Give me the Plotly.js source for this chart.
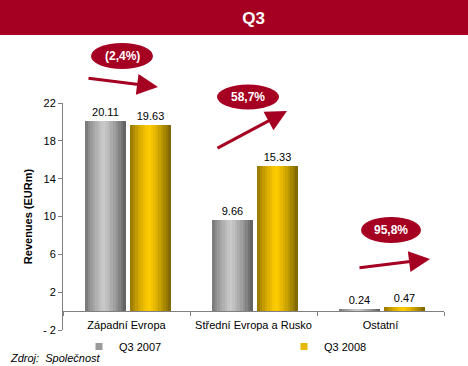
<!DOCTYPE html>
<html>
<head>
<meta charset="utf-8">
<script src="https://cdn.plot.ly/plotly-3.0.1.min.js"></script>
<style>html,body{margin:0;padding:0;background:#fff;}#chart{width:468px;height:366px;}</style>
</head>
<body>
<div id="chart"></div>
<script>
// ---- data ----
const categories = ["Západní Evropa", "Střední Evropa a Rusko", "Ostatní"];
const seriesNames = ["Q3 2007", "Q3 2008"];
const q3_2007 = [20.11, 9.66, 0.24];
const q3_2008 = [19.63, 15.33, 0.47];
const changeLabels = ["(2,4%)", "58,7%", "95,8%"];
const yTickVals = [-2, 2, 6, 10, 14, 18, 22];
const yTickText = ["- 2", "2", "6", "10", "14", "18", "22"];

// ---- geometry helpers (pixel -> paper) ----
const W = 468, H = 366;
const M = {l: 63, r: 24, t: 103, b: 36, autoexpand: false};
const PW = W - M.l - M.r, PH = H - M.t - M.b;
const px = x => (x - M.l) / PW;
const py = y => (H - M.b - y) / PH;
const RED = "#A50021";
const FONT = "Arial, 'Liberation Sans', sans-serif";

// gradient colours for cylinder-like bars
function mix(a, b, t) { return a.map((v, i) => Math.round(v + (b[i] - v) * t)); }
function shade(edgeL, peak, edgeR, t) {
  const p = 0.45;
  const c = t < p ? mix(edgeL, peak, Math.pow(t / p, 0.7)) : mix(peak, edgeR, Math.pow((t - p) / (1 - p), 1.3));
  return "rgb(" + c.join(",") + ")";
}
const styles = [
  {vals: q3_2007, off: -0.325, w: 0.318, L: [110,110,110], P: [202,202,202], R: [92,92,92], legend: "#9a9a9a", lg: "legend", lx: 79},
  {vals: q3_2008, off: 0.03, w: 0.318, L: [140,110,0], P: [255,204,0], R: [120,98,0], legend: "#E6B800", lg: "legend2", lx: 284}
];

const traces = [];
const N = 16;
styles.forEach(s => {
  for (let i = 0; i < N; i++) {
    const sw = s.w / N;
    traces.push({
      type: "bar", x: categories, y: s.vals,
      offset: s.off + i * sw, width: sw + 0.004,
      marker: {color: shade(s.L, s.P, s.R, (i + 0.5) / N), line: {width: 0}},
      showlegend: false, hoverinfo: "skip"
    });
  }
  // value labels
  traces.push({
    type: "bar", x: categories, y: s.vals,
    offset: s.off, width: s.w,
    marker: {color: "rgba(0,0,0,0)"},
    text: s.vals.map(v => v.toFixed(2)), textposition: "outside",
    textfont: {family: FONT, size: 11, color: "#000"},
    cliponaxis: false, showlegend: false, hoverinfo: "skip"
  });
});
// legend entries
styles.forEach((s, k) => {
  traces.push({
    type: "scatter", mode: "markers", x: [null], y: [null], name: seriesNames[k], legend: s.lg,
    marker: {symbol: "square", size: 7, color: s.legend, line: {width: 0}}
  });
});

const shapes = [
  {type: "rect", xref: "paper", yref: "paper", x0: px(0), x1: px(W), y0: py(35), y1: py(0),
   fillcolor: RED, line: {width: 0}, layer: "below"}
];
const ellipses = [
  {cx: 122, cy: 56, w: 62, h: 26},
  {cx: 248, cy: 97, w: 62, h: 25},
  {cx: 391, cy: 230, w: 60, h: 26}
];
const arrows = [
  {tx: 158, ty: 87, fx: 87, fy: 78},
  {tx: 287, ty: 111, fx: 216, fy: 149},
  {tx: 430, ty: 259, fx: 358, fy: 268}
];
const annotations = [];
ellipses.forEach((e, i) => {
  shapes.push({type: "circle", xref: "paper", yref: "paper",
    x0: px(e.cx - e.w / 2), x1: px(e.cx + e.w / 2), y0: py(e.cy + e.h / 2), y1: py(e.cy - e.h / 2),
    fillcolor: RED, line: {width: 0}});
  annotations.push({xref: "paper", yref: "paper", x: px(e.cx), y: py(e.cy), text: "<b>" + changeLabels[i] + "</b>",
    showarrow: false, font: {family: FONT, size: 12, color: "#fff"}, xanchor: "center", yanchor: "middle"});
});
arrows.forEach(a => {
  annotations.push({xref: "paper", yref: "paper", x: px(a.tx), y: py(a.ty), text: "",
    showarrow: true, axref: "pixel", ayref: "pixel", ax: a.fx - a.tx, ay: a.fy - a.ty,
    arrowhead: 2, arrowsize: 1.4, arrowwidth: 3, arrowcolor: RED, standoff: 0, startstandoff: 0});
});
annotations.push({xref: "paper", yref: "paper", x: px(8), y: py(358), xanchor: "left", yanchor: "middle",
  text: "<i>Zdroj:  Společnost</i>", showarrow: false, font: {family: FONT, size: 11, color: "#000"}});

const legendBase = {orientation: "h", xanchor: "left", y: py(332), yanchor: "top",
  font: {family: FONT, size: 11, color: "#000"}, bgcolor: "rgba(0,0,0,0)", itemsizing: "trace", itemwidth: 30};

const layout = {
  width: W, height: H, margin: M,
  paper_bgcolor: "#fff", plot_bgcolor: "#fff",
  barmode: "overlay",
  title: {text: "<b>Q3</b>", font: {family: FONT, size: 17, color: "#fff"},
    x: 0.5, xanchor: "center", xref: "paper", y: 1 - 18 / H, yanchor: "middle", yref: "container", automargin: false},
  xaxis: {type: "category", anchor: "free", position: py(311), showline: true, linecolor: "#808080", linewidth: 1,
    ticks: "outside", tickson: "boundaries", ticklen: 4, tickcolor: "#808080", ticklabelstandoff: 4,
    tickfont: {family: FONT, size: 11, color: "#000"}, showgrid: false, zeroline: false, fixedrange: true},
  yaxis: {range: [-2, 22], tickvals: yTickVals, ticktext: yTickText, showline: true, linecolor: "#808080",
    linewidth: 1, ticks: "outside", ticklen: 4, tickcolor: "#808080", showgrid: false, zeroline: false,
    tickfont: {family: FONT, size: 11, color: "#000"},
    title: {text: "<b>Revenues (EURm)</b>", font: {family: FONT, size: 11, color: "#000"}, standoff: 8}},
  legend: Object.assign({}, legendBase, {x: px(styles[0].lx)}),
  legend2: Object.assign({}, legendBase, {x: px(styles[1].lx)}),
  shapes: shapes, annotations: annotations,
  bargap: 0, hovermode: false
};
Plotly.newPlot("chart", traces, layout, {displayModeBar: false, staticPlot: true});
</script>
</body>
</html>
